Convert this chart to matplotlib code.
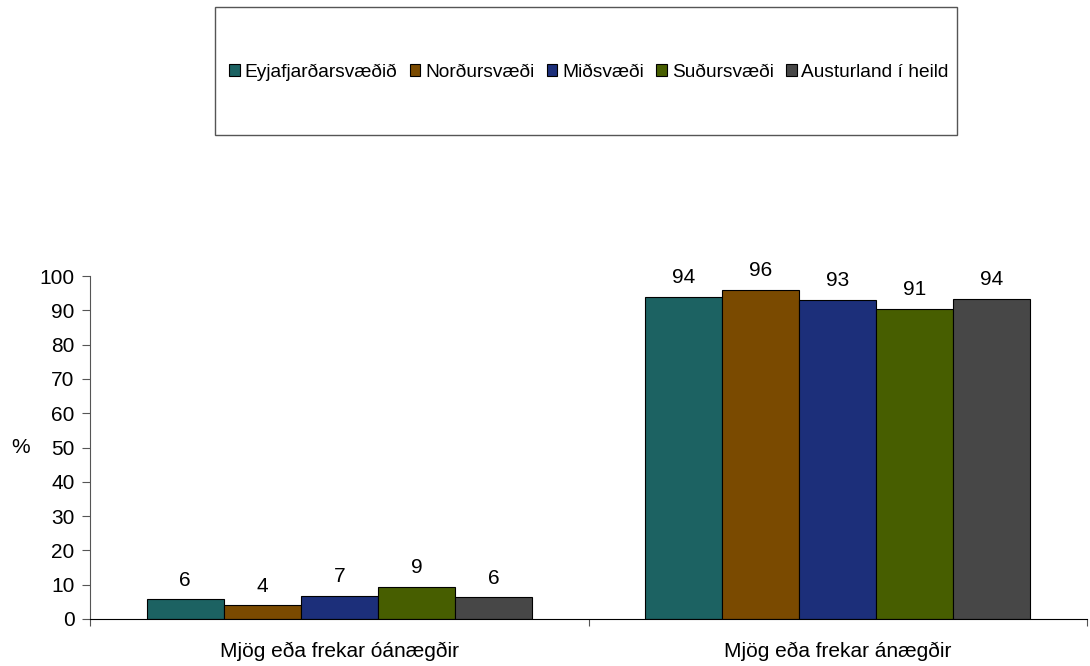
import matplotlib
matplotlib.use("Agg")
import matplotlib.pyplot as plt
from matplotlib.patches import Rectangle
import numpy as np

plt.rcParams['font.family'] = ['Liberation Sans', 'DejaVu Sans']

categories = ["Mjög eða frekar óánægðir", "Mjög eða frekar ánægðir"]
series_names = ["Eyjafjarðarsvæðið", "Norðursvæði", "Miðsvæði", "Suðursvæði", "Austurland í heild"]
# bar heights and printed labels
heights = {
    "Eyjafjarðarsvæðið": [5.7, 94.0],
    "Norðursvæði": [4.0, 96.0],
    "Miðsvæði": [6.7, 93.0],
    "Suðursvæði": [9.4, 90.5],
    "Austurland í heild": [6.3, 93.3],
}
labels = {
    "Eyjafjarðarsvæðið": [6, 94],
    "Norðursvæði": [4, 96],
    "Miðsvæði": [7, 93],
    "Suðursvæði": [9, 91],
    "Austurland í heild": [6, 94],
}
colors = ["#1C6262", "#7A4A00", "#1C2F7A", "#475E00", "#474747"]
yticks = list(range(0, 101, 10))

fig = plt.figure(figsize=(10.9, 6.66), dpi=100)
ax = fig.add_axes([90/1090, 47/666, (1087-90)/1090, (619-276)/666])

x = np.arange(len(categories))
w = 0.1546
handles = []
for i, name in enumerate(series_names):
    bars = ax.bar(x + (i - 2) * w, heights[name], width=w, color=colors[i],
                  edgecolor="black", linewidth=0.8, label=name)
    ax.bar_label(bars, labels=[str(v) for v in labels[name]], padding=7, fontsize=15)
    handles.append(bars)

ax.set_xlim(-0.5, 1.5)
ax.set_ylim(0, 100)
ax.set_yticks(yticks)
ax.tick_params(axis='y', labelsize=15, length=6, width=0.8, color="#555555", pad=5)
ax.set_xticks(x)
ax.set_xticklabels(categories, fontsize=15)
ax.set_xticks([-0.5, 0.5, 1.5], minor=True)
ax.tick_params(axis='x', which='major', length=0, pad=16)
ax.tick_params(axis='x', which='minor', length=5, width=0.8, color="#555555")
for s in ["top", "right"]:
    ax.spines[s].set_visible(False)
ax.spines["left"].set_color("#555555")
ax.spines["bottom"].set_color("black")
ax.spines["left"].set_linewidth(0.8)
ax.spines["bottom"].set_linewidth(0.8)

ax.set_ylabel("%", rotation=0, fontsize=15, labelpad=14, va="center")

# legend box
fig.patches.append(Rectangle((215/1090, 1 - 135/666), (957-215)/1090, (135-7)/666,
                             transform=fig.transFigure, fill=False,
                             edgecolor="#555555", linewidth=1.0))
leg = fig.legend(handles=handles, labels=series_names, loc="center",
                 bbox_to_anchor=((215+957)/2/1090 + 3/1090, 1 - 72/666), ncol=5,
                 frameon=False, fontsize=13.8, handlelength=0.55, handleheight=0.55,
                 handletextpad=0.25, columnspacing=0.65)

fig.savefig("out.png", dpi=100)
